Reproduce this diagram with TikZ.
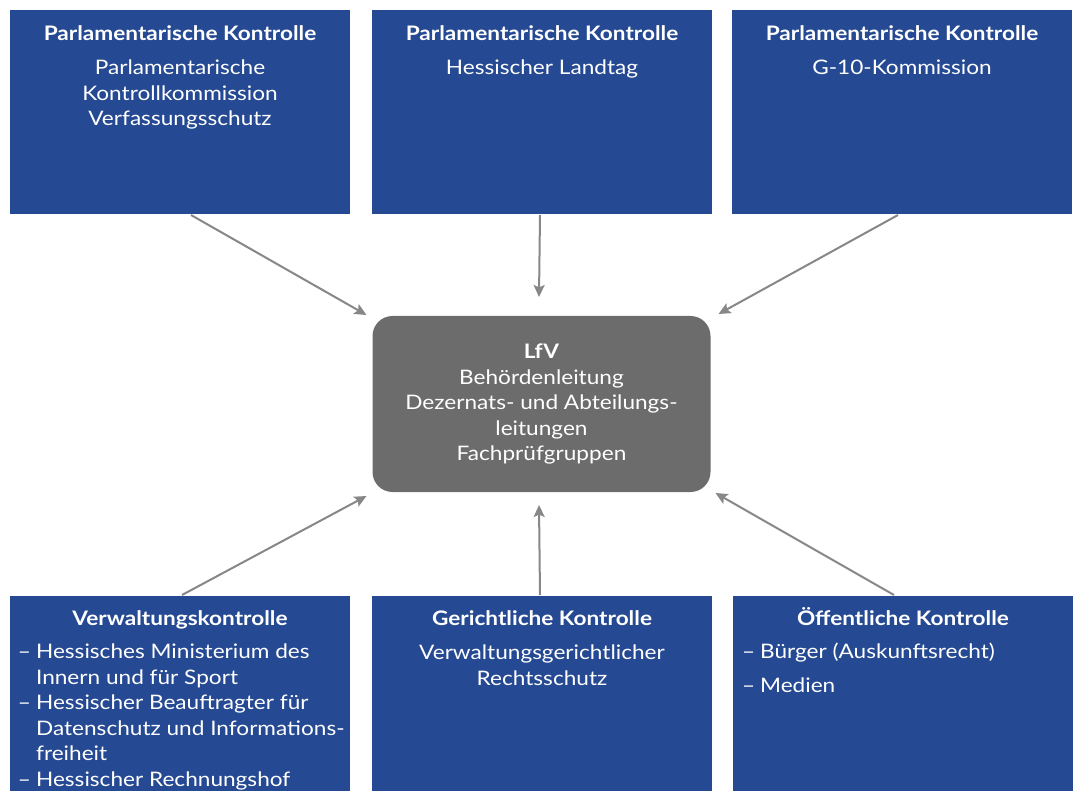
\documentclass[tikz,border=0pt]{standalone}
\usepackage{fontspec}
\setmainfont{Lato}[FakeStretch=1.13]
\usepackage{xcolor}
\usetikzlibrary{arrows.meta}
\usetikzlibrary{positioning}

\definecolor{boxblue}{RGB}{37,73,146}
\definecolor{lfvgray}{RGB}{108,108,108}
\definecolor{arrowgray}{RGB}{135,135,135}

\begin{document}
\begin{tikzpicture}[x=0.5pt, y=-0.5pt, ->, >={Stealth[length=6pt,width=5.5pt,inset=1.2pt]},
                line width=1pt, draw=arrowgray,
                box node/.style={fill=boxblue, draw=none, anchor=north west, inner sep=0pt,
                                 minimum width=170pt, minimum height=102pt},
                text node/.style={text=white, align=center, inner sep=0pt,
                                  font=\fontsize{10}{12.75}\selectfont},
                lfv node/.style={fill=lfvgray, draw=none, rounded corners=10pt, inner sep=0pt,
                                 minimum width=169pt, minimum height=88pt, text=white,
                                 align=center, font=\fontsize{10}{12.75}\selectfont}]

      \useasboundingbox (0,0) rectangle (1077,791);

      % Kontrollinstanzen oben
      \node[box node] (K1) at (9,9) {};
      \node[box node] (K2) at (371,9) {};
      \node[box node] (K3) at (731,9) {};
      % Kontrollinstanzen unten
      \node[box node, minimum height=98pt] (K4) at (9,595) {};
      \node[box node, minimum height=98pt] (K5) at (371,595) {};
      \node[box node, minimum height=98pt] (K6) at (732,595) {};

      \node[text node, below=8pt of K1.north] (T1) {\textbf{Parlamentarische Kontrolle}\\[4.25pt]
            Parlamentarische\\ Kontrollkommission\\ Verfassungsschutz};
      \node[text node, below=8pt of K2.north] (T2) {\textbf{Parlamentarische Kontrolle}\\[4.25pt]
            Hessischer Landtag};
      \node[text node, below=8pt of K3.north] (T3) {\textbf{Parlamentarische Kontrolle}\\[4.25pt]
            G-10-Kommission};

      \node[text node, below=7.5pt of K4.north] (T4) {\textbf{Verwaltungskontrolle}};
      \node[text node, anchor=north west] (L4) at (17,640) {%
            \begin{tabular}{@{}l@{\hspace{2.5pt}}l@{}}
            – & Hessisches Ministerium des\\
              & Innern und für Sport\\
            – & Hessischer Beauftragter für\\
              & Datenschutz und Informations-\\
              & freiheit\\
            – & Hessischer Rechnungshof
            \end{tabular}};
      \node[text node, below=7.5pt of K5.north] (T5) {\textbf{Gerichtliche Kontrolle}\\[4.25pt]
            Verwaltungsgerichtlicher\\ Rechtsschutz};
      \node[text node, text height=7.3pt, below=7.5pt of K6.north] (T6) {\textbf{Öffentliche Kontrolle}};
      \node[text node, anchor=north west] (L6) at (741,640) {%
            \begin{tabular}{@{}l@{\hspace{2.5pt}}l@{}}
            – & Bürger (Auskunftsrecht)\\[4.25pt]
            – & Medien
            \end{tabular}};

      % LfV in der Mitte
      \node[lfv node] (L) at (541.5,404) {\textbf{LfV}\\ Behördenleitung\\ Dezernats- und Abteilungs-\\
            leitungen\\ Fachprüfgruppen};

      \draw ([xshift=5.5pt]K1.south) -- ([xshift=-2.5pt]L.north west);
      \draw ([xshift=-1pt]K2.south) -- ([xshift=-1.25pt,yshift=9pt]L.north);
      \draw ([xshift=-2pt]K3.south) -- ([xshift=3.5pt,yshift=0.5pt]L.north east);
      \draw ([xshift=1pt]K4.north) -- ([xshift=-2.5pt,yshift=-1.5pt]L.south west);
      \draw ([xshift=-1pt]K5.north) -- ([xshift=-1.25pt,yshift=-6pt]L.south);
      \draw ([xshift=-4.5pt]K6.north) -- ([xshift=2pt]L.south east);
  \end{tikzpicture}
\end{document}
